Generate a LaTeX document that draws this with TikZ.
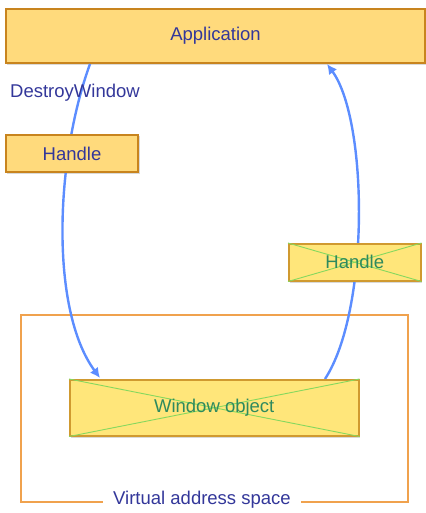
\documentclass[tikz,border=0pt]{standalone}
\usepackage{fontspec}
\setmainfont{Liberation Sans}
\usetikzlibrary{calc,arrows.meta}
\definecolor{boxfill}{HTML}{FFDA7C}
\definecolor{boxedge}{HTML}{C8841E}
\definecolor{deadfill}{HTML}{FFE67A}
\definecolor{deadedge}{HTML}{D09A30}
\definecolor{crossgreen}{HTML}{86D85E}
\definecolor{deadtext}{HTML}{2E8A5E}
\definecolor{labelblue}{HTML}{33379A}
\definecolor{flowblue}{HTML}{5C8DFF}
\definecolor{spaceedge}{HTML}{F0A24E}
\tikzset{
  txt/.style={font=\fontsize{18.5}{21}\selectfont},
  livebox/.style={txt, draw=boxedge, fill=boxfill, line width=2pt,
    text=labelblue, inner sep=0pt, anchor=north west},
  deadbox/.style={txt, draw=deadedge, fill=deadfill, line width=1.5pt,
    text=deadtext, inner sep=0pt, anchor=north west},
  cross/.style={draw=crossgreen, line width=0.9pt},
  flow/.style={draw=flowblue, line width=2.4pt,
    -{Latex[length=10pt,width=10pt]}},
  shadow/.style={fill=black!15, draw=none},
}
\begin{document}
\begin{tikzpicture}[x=1pt,y=-1pt]
\useasboundingbox (0,0) rectangle (425,513);

% virtual address space frame
\draw[spaceedge, line width=2pt] (21,315) rectangle (408,502);
\node[txt, text=labelblue, fill=white, inner xsep=10pt, inner ysep=2pt]
  (vas) at (202,500) {Virtual address space};

% soft shadows under the boxes
\fill[shadow] (7,10) rectangle (426,65);
\fill[shadow] (7,136) rectangle (140,174);
\fill[shadow] (290,245) rectangle (422,283);
\fill[shadow] (71,381) rectangle (360,438);

% application
\node[livebox, minimum width=419pt, minimum height=54pt] (app) at (5,8) {Application};

% flows (drawn before the boxes they pass behind)
\node[anchor=north west, inner sep=0pt] (win) at (69,379) {};
\draw[flow] ($(app.south west)+(85,0)$)
  .. controls (55,160) and (50,310) .. ($(win.north west)+(31,-1)$);
\draw[flow] ($(win.north west)+(256,0)$)
  .. controls (370,310) and (368,120) .. ($(app.south west)+(322,0)$);

% handle held by the application
\node[livebox, minimum width=132pt, minimum height=37pt] (hnd) at (5,134) {Handle};
\node[txt, text=labelblue, anchor=west, inner sep=0pt] (dw) at (10,93) {DestroyWindow};

% destroyed handle
\node[deadbox, minimum width=132pt, minimum height=37pt] (hdead) at (288,243) {};
\draw[cross] (hdead.north west) -- (hdead.south east);
\draw[cross] (hdead.south west) -- (hdead.north east);
\node[txt, text=deadtext] (hdeadtxt) at (hdead.center) {Handle};

% destroyed window object
\node[deadbox, minimum width=289pt, minimum height=56pt] (wobj) at (69,379) {};
\draw[cross] (wobj.north west) -- (wobj.south east);
\draw[cross] (wobj.south west) -- (wobj.north east);
\node[txt, text=deadtext] (wobjtxt) at (wobj.center) {Window object};
\end{tikzpicture}
\end{document}
